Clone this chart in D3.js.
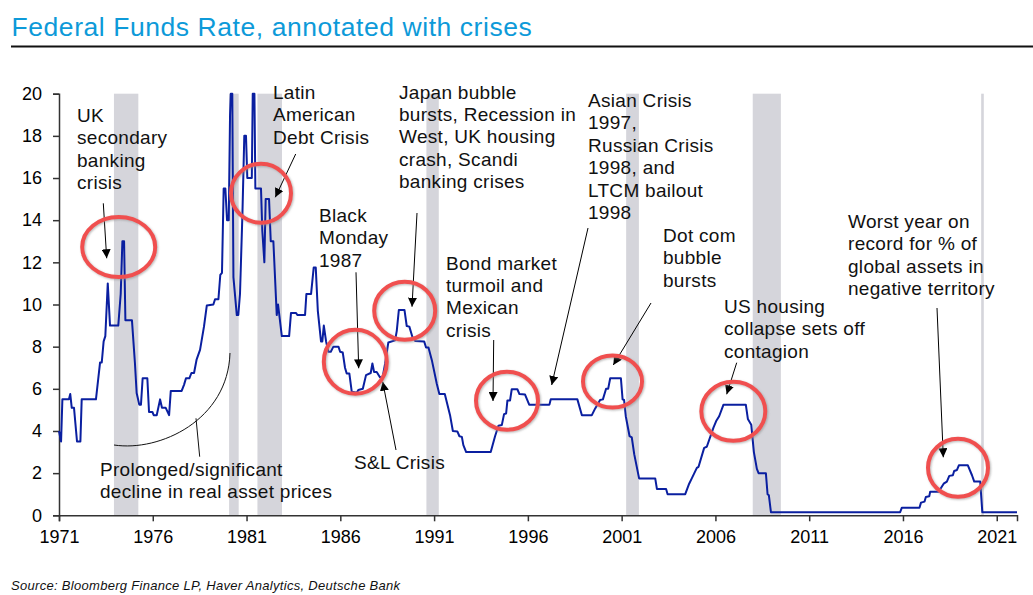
<!DOCTYPE html>
<html>
<head>
<meta charset="utf-8">
<title>Federal Funds Rate, annotated with crises</title>
<script src="https://cdn.jsdelivr.net/npm/d3@7"></script>
<style>
    html, body { margin: 0; padding: 0; background: #fff; }
    svg { display: block; font-family: "Liberation Sans", Arial, sans-serif; }
    .axis text { font-size: 18px; fill: #000; }
    .axis path, .axis line { stroke: #333; stroke-width: 1.5px; }
    .note { font-size: 19px; letter-spacing: 0.3px; fill: #111; }
</style>
</head>
<body>
<script>
// rate series (decimal year / percent)
var rateYears = [
    1971, 1971.11, 1971.18, 1971.53, 1971.60, 1971.68, 1971.80, 1971.96, 1972.14, 1972.21,
    1972.97, 1973.19, 1973.28, 1973.38, 1973.47, 1973.60, 1973.72, 1974.16, 1974.29, 1974.38,
    1974.47, 1974.54, 1974.89, 1975.05, 1975.14, 1975.28, 1975.37, 1975.46, 1975.71, 1975.80,
    1975.98, 1976.05, 1976.21, 1976.39, 1976.49, 1976.69, 1976.87, 1976.96, 1977.54, 1977.67,
    1977.77, 1977.95, 1978.06, 1978.20, 1978.34, 1978.52, 1978.73, 1978.88, 1979.23, 1979.32,
    1979.50, 1979.60, 1979.69, 1979.78, 1979.87, 1979.96, 1980.05, 1980.12, 1980.16, 1980.24,
    1980.30, 1980.48, 1980.56, 1980.65, 1980.78, 1980.88, 1980.97, 1981.04, 1981.28, 1981.33,
    1981.42, 1981.47, 1981.77, 1981.84, 1981.95, 1982.02, 1982.20, 1982.29, 1982.43, 1982.61,
    1982.68, 1982.88, 1983.27, 1983.37, 1983.64, 1983.71, 1984.12, 1984.19, 1984.44, 1984.58,
    1984.69, 1984.80, 1984.97, 1985.04, 1985.12, 1985.24, 1985.36, 1985.49, 1985.63, 1985.90,
    1985.99, 1986.13, 1986.25, 1986.34, 1986.48, 1986.61, 1986.88, 1986.96, 1987.20, 1987.37,
    1987.62, 1987.71, 1987.80, 1987.94, 1988.12, 1988.26, 1988.39, 1988.56, 1988.92, 1989.01,
    1989.12, 1989.42, 1989.54, 1989.68, 1989.84, 1989.99, 1990.47, 1990.57, 1990.70, 1990.88,
    1991.14, 1991.28, 1991.57, 1991.85, 1992.00, 1992.24, 1992.35, 1992.48, 1992.56, 1992.71,
    1994.02, 1994.25, 1994.43, 1994.61, 1994.73, 1994.84, 1994.91, 1995.05, 1995.14, 1995.44,
    1995.55, 1995.85, 1996.07, 1997.15, 1997.22, 1998.64, 1998.88, 1999.41, 1999.59, 1999.85,
    2000.00, 2000.17, 2000.28, 2000.39, 2000.96, 2001.05, 2001.13, 2001.22, 2001.42, 2001.54,
    2001.67, 2001.93, 2002.79, 2002.88, 2003.37, 2003.45, 2004.39, 2004.60, 2004.74, 2005.01,
    2005.10, 2005.40, 2005.54, 2005.90, 2006.04, 2006.20, 2006.43, 2007.62, 2007.73, 2007.91,
    2008.05, 2008.21, 2008.30, 2008.69, 2008.78, 2008.85, 2008.96, 2015.85, 2015.94, 2016.88,
    2016.96, 2017.15, 2017.22, 2017.40, 2017.45, 2017.90, 2018.17, 2018.34, 2018.47, 2018.66,
    2018.73, 2018.88, 2018.98, 2019.46, 2019.68, 2019.80, 2020.12, 2020.23, 2022.08
];
var rateValues = [
    4, 3.5, 5.5, 5.5, 5.75, 5.1, 5.1, 3.5, 3.5, 5.5,
    5.5, 7.25, 7.25, 8.25, 8.5, 11, 9, 9, 10.5, 13,
    13, 9.25, 9.25, 7.2, 5.8, 5.25, 5.25, 6.5, 6.5, 4.9,
    4.9, 4.75, 4.75, 5.5, 5.1, 5.1, 4.75, 5.9, 5.9, 6.2,
    6.5, 6.5, 6.75, 6.75, 7.4, 7.85, 8.95, 9.95, 10, 10.25,
    10.25, 11.4, 11.5, 15.5, 15.5, 14, 14, 19, 20, 20,
    11.3, 9.5, 9.5, 10.5, 14.3, 18, 18, 16, 16, 20,
    20, 15.5, 15.5, 13.5, 12, 15, 15, 13, 13, 9.5,
    10, 8.5, 8.5, 9.6, 9.6, 9.5, 9.5, 10.5, 10.5, 11.75,
    11.75, 9.7, 8.25, 8.25, 9, 8.25, 7.76, 7.76, 8, 8,
    7.76, 7.72, 7, 6.73, 6.73, 5.86, 5.81, 5.94, 6, 6.65,
    6.75, 7.2, 6.8, 6.8, 6.54, 6.57, 7.2, 8.2, 8.3, 8.75,
    9.74, 9.74, 8.98, 8.95, 8.47, 8.27, 8.25, 7.96, 7.96, 7.36,
    6.25, 5.75, 5.75, 4.75, 4, 3.98, 3.75, 3.72, 3.33, 3,
    3, 3.75, 4.25, 4.28, 4.8, 4.83, 5.45, 5.45, 5.98, 5.98,
    5.75, 5.73, 5.25, 5.25, 5.5, 5.5, 4.75, 4.75, 5.07, 5.47,
    5.5, 6, 6, 6.5, 6.5, 5.5, 5.47, 4.7, 3.76, 3.7,
    2.9, 1.75, 1.75, 1.25, 1.25, 1, 1, 1.5, 1.75, 2.25,
    2.3, 3.2, 3.25, 4.17, 4.47, 4.7, 5.25, 5.25, 4.57, 4.3,
    3, 2.2, 2, 2, 1, 0.95, 0.15, 0.15, 0.36, 0.36,
    0.6, 0.65, 0.87, 0.9, 1.12, 1.12, 1.5, 1.6, 1.87, 1.9,
    2.1, 2.15, 2.37, 2.37, 1.9, 1.6, 1.6, 0.15, 0.15
];

// recession bands, start and end years
var bandStarts = [1973.93, 1980.07, 1981.58, 1990.59, 2001.24, 2007.99, 2020.17];
var bandEnds = [1975.23, 1980.58, 1982.89, 1991.25, 2001.92, 2009.49, 2020.31];

var yearTicks = [1971, 1976, 1981, 1986, 1991, 1996, 2001, 2006, 2011, 2016, 2021];
var rateTicks = [0, 2, 4, 6, 8, 10, 12, 14, 16, 18, 20];

var titleText = 'Federal Funds Rate, annotated with crises';
var sourceText = 'Source: Bloomberg Finance LP, Haver Analytics, Deutsche Bank';

// hand placed annotations, in page pixels
var circles = [
    { x: 118.7, y: 247, rx: 36.5, ry: 30 },
    { x: 261, y: 193.3, rx: 30, ry: 29.5 },
    { x: 355.3, y: 361.7, rx: 31.5, ry: 32 },
    { x: 404.7, y: 310.7, rx: 30.5, ry: 29 },
    { x: 507, y: 400.7, rx: 31, ry: 29 },
    { x: 612.5, y: 381.5, rx: 29.5, ry: 26 },
    { x: 733.3, y: 411.3, rx: 32, ry: 29.5 },
    { x: 958, y: 467.7, rx: 30, ry: 29 }
];
var arrows = [
    [103.3, 203.3, 106.7, 258.3],
    [295.7, 154, 275.3, 197.3],
    [356, 272.3, 358.7, 368.3],
    [417, 213, 412, 306.7],
    [396, 450, 382.7, 381.7],
    [493.7, 340, 493, 401],
    [588, 228, 551.7, 385],
    [651, 303, 613.3, 365],
    [736.7, 362.7, 726.7, 394.3],
    [937, 308, 943.3, 457.3]
];
var notes = [
    { x: 77, y: 121.7, lines: ['UK', 'secondary', 'banking', 'crisis'] },
    { x: 273, y: 99, lines: ['Latin', 'American', 'Debt Crisis'] },
    { x: 399, y: 98.5, lines: ['Japan bubble', 'bursts, Recession in', 'West, UK housing', 'crash, Scandi', 'banking crises'] },
    { x: 588, y: 107, lines: ['Asian Crisis', '1997,', 'Russian Crisis', '1998, and', 'LTCM bailout', '1998'] },
    { x: 319, y: 222, lines: ['Black', 'Monday', '1987'] },
    { x: 446, y: 269.5, lines: ['Bond market', 'turmoil and', 'Mexican', 'crisis'] },
    { x: 354, y: 469, lines: ['S&L Crisis'] },
    { x: 663, y: 242, lines: ['Dot com', 'bubble', 'bursts'] },
    { x: 724, y: 313, lines: ['US housing', 'collapse sets off', 'contagion'] },
    { x: 848, y: 228, lines: ['Worst year on', 'record for % of', 'global assets in', 'negative territory'] },
    { x: 100, y: 475.7, lines: ['Prolonged/significant', 'decline in real asset prices'] }
];

var width = 1033, height = 595;
var lineHeight = 22.4;

var svg = d3.select('body')
    .append('svg')
    .attr('width', width)
    .attr('height', height);

var defs = svg.append('defs');

var shadow = defs.append('filter')
    .attr('id', 'ring-shadow')
    .attr('x', '-20%').attr('y', '-20%')
    .attr('width', '140%').attr('height', '140%');
shadow.append('feDropShadow')
    .attr('dx', 1).attr('dy', 1)
    .attr('stdDeviation', 1)
    .attr('flood-color', '#888')
    .attr('flood-opacity', 0.6);

defs.append('marker')
    .attr('id', 'arrow-head')
    .attr('markerUnits', 'userSpaceOnUse')
    .attr('viewBox', '0 0 10 10')
    .attr('refX', 10).attr('refY', 5)
    .attr('markerWidth', 9).attr('markerHeight', 9)
    .attr('orient', 'auto')
    .append('path')
    .attr('d', 'M0,0L10,5L0,10Z')
    .attr('fill', '#000');

var x = d3.scaleLinear().domain([1971, 2022.08]).range([59, 1017]);
var y = d3.scaleLinear().domain([0, 20]).range([515.3, 93.7]);

// title and rule
svg.append('text')
    .attr('x', 11.5)
    .attr('y', 36)
    .attr('font-size', 26.5)
    .attr('letter-spacing', 0.56)
    .attr('fill', '#0d9ad9')
    .text(titleText);

svg.append('rect')
    .attr('x', 11)
    .attr('y', 45.5)
    .attr('width', width - 11)
    .attr('height', 2)
    .attr('fill', '#111');

// recession bands
svg.append('g')
    .selectAll('rect')
    .data(bandStarts)
    .enter()
    .append('rect')
    .attr('x', function(d) { return x(d); })
    .attr('y', y(20))
    .attr('width', function(d, i) { return x(bandEnds[i]) - x(d); })
    .attr('height', y(0) - y(20))
    .attr('fill', '#d5d5db');

// axes
var yAxis = d3.axisLeft(y)
    .tickValues(rateTicks)
    .tickSizeOuter(0)
    .tickSize(6)
    .tickPadding(11);
svg.append('g')
    .attr('class', 'axis')
    .attr('transform', 'translate(' + x(1971) + ',0)')
    .call(yAxis);

var xAxis = d3.axisBottom(x)
    .tickValues(yearTicks)
    .tickFormat(d3.format('d'))
    .tickSizeOuter(0)
    .tickSize(6)
    .tickPadding(9);
svg.append('g')
    .attr('class', 'axis')
    .attr('transform', 'translate(0,' + y(0) + ')')
    .call(xAxis);

// rate line
var line = d3.line()
    .x(function(d) { return x(d); })
    .y(function(d, i) { return y(rateValues[i]); });

svg.append('path')
    .datum(rateYears)
    .attr('d', line)
    .attr('fill', 'none')
    .attr('stroke', '#0a1fa0')
    .attr('stroke-width', 2)
    .attr('stroke-linejoin', 'round');

// decline curve and its leader
svg.append('path')
    .attr('d', 'M114,445C160,452 228,420 230,353')
    .attr('fill', 'none')
    .attr('stroke', '#111')
    .attr('stroke-width', 1);
svg.append('line')
    .attr('x1', 196).attr('y1', 418.3)
    .attr('x2', 199.7).attr('y2', 456.7)
    .attr('stroke', '#111')
    .attr('stroke-width', 1);

// arrows
svg.append('g')
    .selectAll('line')
    .data(arrows)
    .enter()
    .append('line')
    .attr('x1', function(d) { return d[0]; })
    .attr('y1', function(d) { return d[1]; })
    .attr('x2', function(d) { return d[2]; })
    .attr('y2', function(d) { return d[3]; })
    .attr('stroke', '#000')
    .attr('stroke-width', 1)
    .attr('marker-end', 'url(#arrow-head)');

// red rings
svg.append('g')
    .selectAll('ellipse')
    .data(circles)
    .enter()
    .append('ellipse')
    .attr('cx', function(d) { return d.x; })
    .attr('cy', function(d) { return d.y; })
    .attr('rx', function(d) { return d.rx; })
    .attr('ry', function(d) { return d.ry; })
    .attr('fill', 'none')
    .attr('stroke', '#f0504f')
    .attr('stroke-width', 4)
    .attr('filter', 'url(#ring-shadow)');

// notes
svg.append('g')
    .selectAll('text')
    .data(notes)
    .enter()
    .append('text')
    .attr('class', 'note')
    .attr('x', function(d) { return d.x; })
    .attr('y', function(d) { return d.y; })
    .each(function(d) {
        var note = d3.select(this);
        d.lines.forEach(function(t, i) {
            note.append('tspan')
                .attr('x', d.x)
                .attr('y', d.y + i * lineHeight)
                .text(t);
        });
    });

// source
svg.append('text')
    .attr('x', 11)
    .attr('y', 589.5)
    .attr('font-size', 13)
    .attr('letter-spacing', 0.3)
    .attr('font-style', 'italic')
    .attr('fill', '#111')
    .text(sourceText);
</script>
</body>
</html>
